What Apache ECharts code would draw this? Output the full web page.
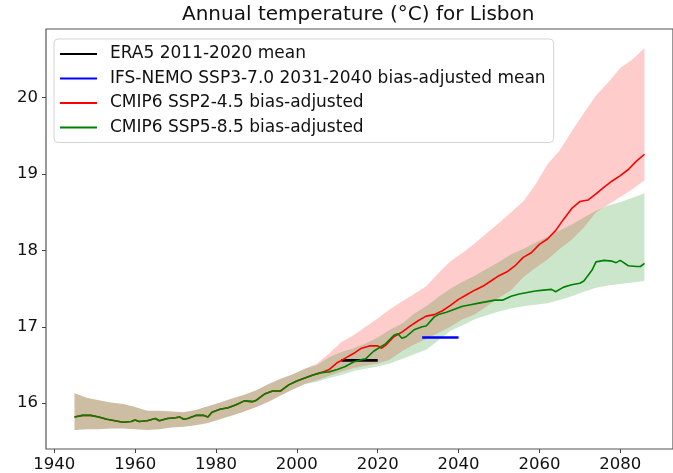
<!DOCTYPE html>
<html>
<head>
<meta charset="utf-8">
<title>Annual temperature Lisbon</title>
<script src="https://cdn.jsdelivr.net/npm/echarts@6/dist/echarts.min.js"></script>
<style>
  html, body { margin: 0; padding: 0; background: #fff; }
  #chart { width: 673px; height: 473px; }
</style>
</head>
<body>
<div id="chart"></div>
<script>
// tick labels
const xTicks = [1940, 1960, 1980, 2000, 2020, 2040, 2060, 2080];
const yTicks = [16, 17, 18, 19, 20];

// historical ensemble mean (shared by both scenarios)
const histYears = [1945,1947,1949,1951,1953,1955,1957,1959,1960,1961,1963,1965,1966,1968,1970,1971,1972,1973,1975,1977,1978,1979,1981,1983,1985,1987,1989,1990,1992,1994,1996,1998,2000,2002,2004,2006];
const histMean = [15.82,15.84,15.84,15.82,15.79,15.77,15.75,15.76,15.78,15.76,15.77,15.80,15.77,15.80,15.81,15.82,15.79,15.80,15.84,15.84,15.82,15.88,15.92,15.94,15.98,16.03,16.02,16.04,16.12,16.16,16.16,16.24,16.29,16.33,16.37,16.40];

// historical spread
const histBandYears = [1945,1948,1951,1954,1957,1960,1963,1966,1969,1972,1975,1978,1981,1984,1987,1990,1993,1996,1999,2002];
const histLow = [15.65,15.66,15.66,15.67,15.67,15.66,15.65,15.66,15.68,15.69,15.71,15.74,15.79,15.84,15.89,15.95,16.02,16.10,16.18,16.25];
const histHigh = [16.13,16.07,16.04,16.01,15.99,15.95,15.90,15.90,15.89,15.88,15.91,15.96,16.01,16.06,16.11,16.17,16.25,16.32,16.38,16.45];

// SSP2-4.5 mean
const ssp245Years = [2008,2010,2012,2014,2016,2018,2020,2021,2022,2024,2026,2028,2030,2032,2034,2036,2038,2040,2042,2044,2046,2048,2050,2052,2054,2056,2058,2060,2062,2064,2066,2068,2070,2072,2074,2076,2078,2080,2082,2084,2086];
const ssp245Mean = [16.44,16.53,16.59,16.65,16.72,16.75,16.75,16.72,16.76,16.87,16.93,17.01,17.08,17.14,17.16,17.21,17.28,17.36,17.42,17.48,17.53,17.60,17.67,17.72,17.80,17.91,17.97,18.08,18.15,18.26,18.41,18.55,18.64,18.66,18.74,18.83,18.91,18.98,19.06,19.17,19.26];

// SSP5-8.5 mean
const ssp585Years = [2008,2010,2012,2014,2016,2017,2019,2022,2024,2025,2026,2027,2029,2031,2032,2034,2035,2037,2039,2041,2043,2045,2047,2049,2051,2053,2055,2057,2059,2061,2063,2064,2066,2068,2070,2071,2073,2074,2076,2078,2079,2080,2082,2084,2085,2086];
const ssp585Mean = [16.41,16.44,16.48,16.54,16.57,16.58,16.68,16.78,16.89,16.91,16.85,16.87,16.96,17.00,17.01,17.13,17.16,17.19,17.23,17.27,17.29,17.31,17.33,17.35,17.35,17.40,17.43,17.45,17.47,17.48,17.49,17.46,17.52,17.55,17.57,17.60,17.74,17.85,17.87,17.86,17.84,17.87,17.80,17.79,17.79,17.83];

// scenario spreads
const futBandYears = [2005,2008,2011,2014,2017,2020,2023,2026,2029,2032,2035,2038,2041,2044,2047,2050,2053,2056,2059,2062,2065,2068,2071,2074,2077,2080,2083,2086];
const ssp245Low = [16.30,16.36,16.41,16.46,16.49,16.52,16.57,16.68,16.77,16.84,16.92,17.00,17.10,17.16,17.27,17.38,17.48,17.65,17.77,17.88,18.02,18.14,18.30,18.50,18.60,18.70,18.80,18.92];
const ssp245High = [16.52,16.65,16.80,16.89,17.00,17.11,17.23,17.33,17.43,17.53,17.70,17.86,17.97,18.09,18.23,18.36,18.50,18.64,18.86,19.13,19.31,19.56,19.80,20.03,20.20,20.39,20.50,20.65];
const ssp585Low = [16.28,16.33,16.37,16.42,16.45,16.48,16.52,16.58,16.64,16.70,16.82,16.95,17.02,17.10,17.15,17.20,17.24,17.27,17.29,17.31,17.35,17.40,17.46,17.51,17.54,17.56,17.58,17.60];
const ssp585High = [16.50,16.60,16.67,16.72,16.78,16.86,16.96,17.04,17.17,17.27,17.39,17.50,17.59,17.67,17.76,17.85,17.95,18.02,18.10,18.18,18.26,18.34,18.43,18.52,18.59,18.63,18.69,18.75];

// reference segments
const era5Years = [2011, 2020];
const era5Mean = [16.56, 16.56];
const ifsYears = [2031, 2040];
const ifsMean = [16.86, 16.86];

const FONT = 'DejaVu Sans';

function pairs(xs, ys) {
  return xs.map((x, i) => [x, ys[i]]);
}

// filled spread between low and high, drawn as one polygon
function band(name, years, low, high, fill) {
  return {
    type: 'custom',
    name: name,
    silent: true,
    z: 1,
    data: pairs(years, low),
    renderItem: function(params, api) {
      if (params.dataIndex !== 0) return null;
      const top = years.map((y, i) => api.coord([y, high[i]]));
      const bottom = years.map((y, i) => api.coord([y, low[i]])).reverse();
      return {
        type: 'polygon',
        shape: { points: top.concat(bottom) },
        style: { fill: fill }
      };
    }
  };
}

function line(name, data, color, width, z) {
  return {
    type: 'line',
    name: name,
    data: data,
    symbol: 'none',
    z: z,
    lineStyle: { color: color, width: width },
    itemStyle: { color: color },
    animation: false
  };
}

const chart = echarts.init(document.getElementById('chart'));

chart.setOption({
  animation: false,
  backgroundColor: '#fff',
  title: {
    text: 'Annual temperature (°C) for Lisbon',
    left: 182,
    top: 5,
    padding: 0,
    textStyle: { fontFamily: FONT, fontSize: 20, fontWeight: 'normal', color: '#111' }
  },
  grid: {
    left: 46, top: 29, width: 636, height: 422,
    show: true, borderColor: '#555', borderWidth: 1.2, backgroundColor: 'transparent'
  },
  legend: {
    orient: 'vertical',
    left: 54, top: 39,
    padding: [5, 8, 5, 6],
    itemGap: 4.5,
    itemWidth: 37,
    itemHeight: 2,
    icon: 'rect',
    backgroundColor: '#fff',
    borderColor: '#d4d4d4',
    borderWidth: 1,
    borderRadius: 4,
    data: [
      'ERA5 2011-2020 mean',
      'IFS-NEMO SSP3-7.0 2031-2040 bias-adjusted mean',
      'CMIP6 SSP2-4.5 bias-adjusted',
      'CMIP6 SSP5-8.5 bias-adjusted'
    ],
    textStyle: { fontFamily: FONT, fontSize: 17, lineHeight: 20, color: '#111', padding: [0, 0, 0, 8] }
  },
  xAxis: {
    type: 'value',
    min: 1937.95,
    max: 2093.05,
    splitLine: { show: false },
    axisLine: { show: false },
    axisTick: { show: true, length: 4, customValues: xTicks, lineStyle: { color: '#444' } },
    axisLabel: {
      customValues: xTicks, margin: 7,
      formatter: v => String(v),
      fontFamily: FONT, fontSize: 16.5, color: '#111'
    }
  },
  yAxis: {
    type: 'value',
    min: 15.4,
    max: 20.9,
    splitLine: { show: false },
    axisLine: { show: false },
    axisTick: { show: true, length: 4, customValues: yTicks, lineStyle: { color: '#444' } },
    axisLabel: {
      customValues: yTicks, margin: 8,
      formatter: v => String(v),
      fontFamily: FONT, fontSize: 16.5, color: '#111'
    }
  },
  series: [
    band('ssp245 spread', histBandYears.concat(futBandYears), histLow.concat(ssp245Low), histHigh.concat(ssp245High), 'rgba(255,0,0,0.2)'),
    band('ssp585 spread', histBandYears.concat(futBandYears), histLow.concat(ssp585Low), histHigh.concat(ssp585High), 'rgba(0,128,0,0.2)'),
    line('ERA5 2011-2020 mean', pairs(era5Years, era5Mean), '#000000', 2.6, 3),
    line('IFS-NEMO SSP3-7.0 2031-2040 bias-adjusted mean', pairs(ifsYears, ifsMean), '#0000ff', 2.4, 3),
    line('CMIP6 SSP2-4.5 bias-adjusted', pairs(histYears.concat(ssp245Years), histMean.concat(ssp245Mean)), '#ff0000', 1.6, 4),
    line('CMIP6 SSP5-8.5 bias-adjusted', pairs(histYears.concat(ssp585Years), histMean.concat(ssp585Mean)), '#008000', 1.6, 5)
  ]
});
</script>
</body>
</html>
